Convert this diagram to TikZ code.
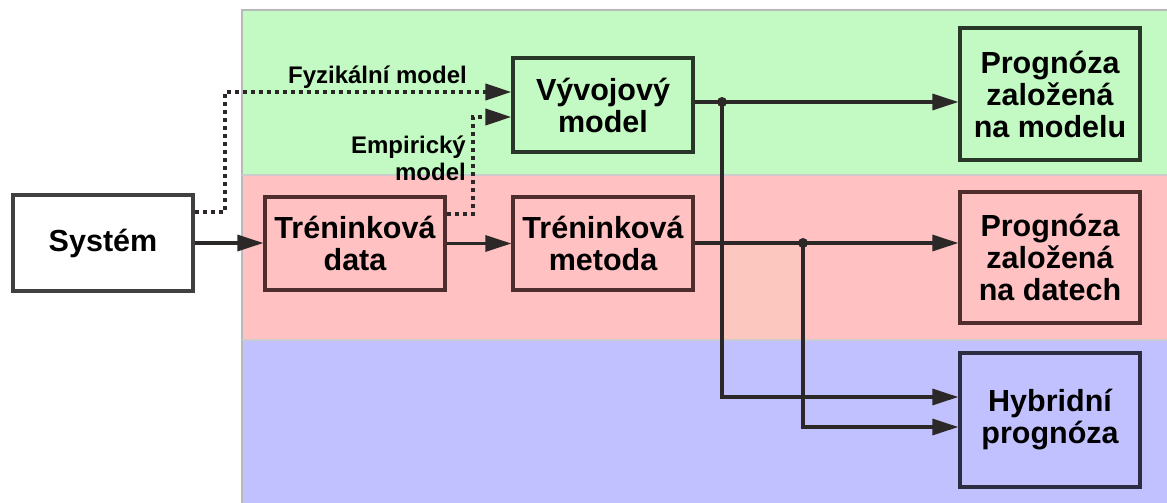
\documentclass[tikz,border=0pt]{standalone}
\usepackage{fontspec}
\setmainfont{Liberation Sans}
\usetikzlibrary{arrows.meta,calc}
\definecolor{bandgreen}{RGB}{195,250,195}
\definecolor{bandred}{RGB}{255,193,193}
\definecolor{bandblue}{RGB}{193,193,255}
\definecolor{bandtan}{RGB}{251,199,190}
\definecolor{edgegreen}{RGB}{40,55,40}
\definecolor{edgered}{RGB}{80,45,45}
\definecolor{edgeblue}{RGB}{45,45,65}
\definecolor{linecol}{RGB}{45,40,40}
\tikzset{
  band/.style={draw=gray!55, line width=1.5pt},
  blockbox/.style={draw, line width=3.2pt, minimum width=180pt, align=center,
    font=\bfseries\fontsize{30.5}{32}\selectfont, inner sep=2pt},
  lbl/.style={font=\bfseries\fontsize{24}{27}\selectfont, inner sep=0pt, align=right},
  arr/.style={line width=3.2pt, draw=linecol, -{Triangle[length=26pt,width=16pt]}},
  dotarr/.style={line width=4pt, draw=linecol, dash pattern=on 4pt off 4pt,
    -{Triangle[length=26pt,width=16pt]}},
  junction/.style={circle, fill=linecol, inner sep=0pt, minimum size=10pt}
}
\begin{document}
\begin{tikzpicture}[x=1pt,y=-1pt]
\useasboundingbox (0,0) rectangle (1167,503);
% bands
\fill[bandgreen] (242,10) rectangle (1167,175);
\fill[bandred] (242,175) rectangle (1167,340);
\fill[bandblue] (242,340) rectangle (1167,503);
\fill[bandtan] (723,245) rectangle (800,340);
\draw[band] (242,503) -- (242,10) -- (1167,10);
\draw[gray!40, line width=1.5pt] (242,175) -- (1167,175);
\draw[gray!40, line width=1.5pt] (242,340) -- (1167,340);
% nodes
\node[blockbox, draw=black!75, fill=white, minimum height=96pt] (sys) at (103,243) {Systém};
\node[blockbox, draw=edgered, minimum height=93pt] (td) at (355,243.5) {Tréninková\\data};
\node[blockbox, draw=edgered, minimum height=93pt] (tm) at (603,243.5) {Tréninková\\metoda};
\node[blockbox, draw=edgegreen, minimum height=94pt] (vm) at (603,105) {Vývojový\\model};
\node[blockbox, draw=edgegreen, minimum height=132pt] (pm) at (1050,94) {Prognóza\\založená\\na modelu};
\node[blockbox, draw=edgered, minimum height=131pt] (pd) at (1050,257.5) {Prognóza\\založená\\na datech};
\node[blockbox, draw=edgeblue, minimum height=134pt] (hp) at (1050,420) {Hybridní\\prognóza};
% labels
\node[lbl, anchor=base east] (lf) at (467,83) {Fyzikální model};
\node[lbl, anchor=base east] (le) at (466,180) {Empirický\\model};
% junctions
\coordinate (vmout) at ([yshift=3pt]vm.east);
\node[junction] (j1) at (722,102) {};
\node[junction] (j2) at (803,243) {};
\coordinate (c1) at (225,92);
\coordinate (c2) at (473,117);
% connectors
\draw[arr] (sys.east) -- (sys.east -| td.west);
\draw[arr] (td.east) -- (td.east -| tm.west);
\draw[dotarr] ([yshift=31pt]sys.east) -| (c1) -- ([yshift=13pt]vm.west);
\draw[dotarr] ([yshift=30pt]td.east) -| (c2) -- ([yshift=-12pt]vm.west);
\draw[arr] (vmout) -- (vmout -| pm.west);
\draw[arr] (tm.east |- j2) -- (j2 -| pd.west);
\draw[arr] (j1.center) |- ([yshift=23pt]hp.west);
\draw[arr] (j2.center) |- ([yshift=-7pt]hp.west);
\end{tikzpicture}
\end{document}
